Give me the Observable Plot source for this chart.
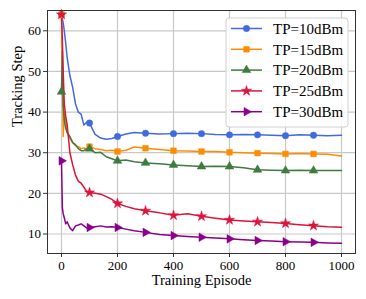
<!DOCTYPE html>
<html>
<head>
<meta charset="utf-8">
<script src="https://cdn.jsdelivr.net/npm/d3@7"></script>
<script src="https://cdn.jsdelivr.net/npm/@observablehq/plot@0.6"></script>
<style>
  html, body { margin: 0; padding: 0; background: #fff; }
  #chart { width: 366px; height: 299px; }
</style>
</head>
<body>
<div id="chart"></div>
<script>
// ---- data ----
const episodes = [0, 3, 6, 10, 15, 20, 30, 40, 50, 60, 70, 80, 90, 100, 120, 140, 160, 180, 200, 230, 260, 300, 350, 400, 450, 500, 550, 600, 650, 700, 750, 800, 850, 900, 950, 1000];
const tp10 = [64, 63, 62, 60, 57, 53.5, 49, 46, 42, 40, 39.5, 36.8, 37.5, 37.3, 34.5, 33.6, 33.3, 33.5, 34.0, 34.6, 35.0, 34.8, 34.6, 34.7, 34.8, 34.7, 34.5, 34.4, 34.5, 34.4, 34.3, 34.2, 34.4, 34.3, 34.2, 34.3];
const tp15 = [64, 50, 34, 40, 38, 35, 33.5, 32.5, 31.7, 31.5, 31, 31.2, 30.8, 31.5, 31, 30.8, 30.5, 30.6, 30.3, 30.6, 31.4, 31.1, 30.8, 30.5, 30.4, 30.3, 30.3, 30.1, 30.0, 29.9, 29.8, 29.7, 29.8, 29.7, 29.6, 29.2];
const tp20 = [45, 55, 42, 38, 36, 35, 34, 32.5, 32, 31, 30.5, 30.5, 31, 31, 30, 30.1, 29, 28.5, 28.0, 28.2, 27.8, 27.5, 27.3, 27.0, 26.8, 26.6, 26.7, 26.6, 26.3, 25.8, 25.7, 25.6, 25.7, 25.6, 25.6, 25.6];
const tp25 = [64, 58, 50, 42, 39, 37, 30, 27, 24.5, 23, 22.5, 21.5, 20.5, 20.2, 20, 19.8, 19.2, 18.5, 17.5, 16.8, 16.2, 15.7, 15.2, 14.6, 15.0, 14.35, 13.9, 13.45, 13.2, 13.0, 12.8, 12.6, 12.3, 12.05, 11.8, 11.65];
const tp30 = [28, 16.5, 15, 14, 12.5, 13, 11.5, 10.8, 12, 12.2, 12.5, 12, 11.5, 11.6, 11.8, 12, 11.7, 11.8, 11.6, 11.2, 10.8, 10.4, 9.9, 9.6, 9.4, 9.2, 9.0, 8.8, 8.6, 8.4, 8.25, 8.1, 8.0, 7.95, 7.8, 7.7];
const seriesNames = ["TP=10dBm", "TP=15dBm", "TP=20dBm", "TP=25dBm", "TP=30dBm"];
const seriesValues = [tp10, tp15, tp20, tp25, tp30];
const xTicks = [0, 200, 400, 600, 800, 1000];
const yTicks = [10, 20, 30, 40, 50, 60];
const colors = ["#4169E1", "#FF8C00", "#3E7B3E", "#DC143C", "#8B008B"];

// custom right-pointing triangle symbol
const triangleRight = {
  draw(context, size) {
    const k = Math.sqrt(size / (Math.sqrt(3) * 3));
    context.moveTo(2 * k, 0);
    context.lineTo(-k, -Math.sqrt(3) * k);
    context.lineTo(-k, Math.sqrt(3) * k);
    context.closePath();
  }
};
const symbols = [d3.symbolCircle, d3.symbolSquare, d3.symbolTriangle, d3.symbolStar, triangleRight];

const rows = [];
seriesNames.forEach((name, i) => {
  episodes.forEach((e, j) => rows.push({episode: e, value: seriesValues[i][j], series: name}));
});
const markerRows = rows.filter(d => d.episode % 100 === 0 && d.episode < 1000);

const font = "'Liberation Serif', 'Times New Roman', serif";
const R = 3.2;

const marks = [
  Plot.gridX(xTicks, {stroke: "#c8c8c8", strokeOpacity: 1, strokeWidth: 1.2}),
  Plot.gridY(yTicks, {stroke: "#c8c8c8", strokeOpacity: 1, strokeWidth: 1.2}),
];
seriesNames.forEach((name, i) => {
  marks.push(Plot.line(rows.filter(d => d.series === name), {x: "episode", y: "value", stroke: colors[i], strokeWidth: 1.5}));
});
seriesNames.forEach((name, i) => {
  marks.push(Plot.dot(markerRows.filter(d => d.series === name), {x: "episode", y: "value", fill: colors[i], stroke: colors[i], strokeWidth: 0.5, r: R, symbol: () => symbols[i]}));
});
marks.push(
  Plot.frame({stroke: "#333", strokeWidth: 1}),
  Plot.axisX(xTicks, {tickSize: 4, tickPadding: 3, fontSize: 13, label: null, stroke: "#333", tickFormat: d3.format("d")}),
  Plot.axisY(yTicks, {tickSize: 4, tickPadding: 2.5, fontSize: 13, label: null, stroke: "#333", tickFormat: d3.format("d")}),
  Plot.text(["Training Episode"], {frameAnchor: "bottom", dy: 31, fontSize: 14.5, text: d => d, fill: "#000"}),
  Plot.text(["Tracking Step"], {frameAnchor: "left", dx: -30, dy: -5, rotate: -90, fontSize: 14.5, text: d => d, fill: "#000"})
);

const chart = Plot.plot({
  width: 366,
  height: 299,
  marginLeft: 47,
  marginRight: 11,
  marginTop: 10,
  marginBottom: 46,
  x: {domain: [-50, 1050]},
  y: {domain: [5.2, 65]},
  symbol: {type: "identity"},
  style: {fontFamily: font, fontSize: "13px", color: "#000", background: "#fff"},
  marks
});
document.getElementById("chart").appendChild(chart);

// legend
const svg = d3.select(chart);
const lg = svg.append("g").attr("font-family", font).attr("font-size", 15).attr("text-anchor", "start");
lg.append("rect").attr("x", 226).attr("y", 18).attr("width", 122).attr("height", 109)
  .attr("rx", 3).attr("fill", "#fff").attr("fill-opacity", 0.85).attr("stroke", "#d0d0d0");
seriesNames.forEach((name, i) => {
  const y = 28.5 + i * 20.8;
  lg.append("line").attr("x1", 231).attr("x2", 262).attr("y1", y).attr("y2", y)
    .attr("stroke", colors[i]).attr("stroke-width", 1.5);
  lg.append("path").attr("d", d3.symbol(symbols[i], R * R * Math.PI)())
    .attr("transform", `translate(246.5,${y})`).attr("fill", colors[i]).attr("stroke", colors[i]).attr("stroke-width", 0.5);
  lg.append("text").attr("x", 273).attr("y", y).attr("dy", "0.35em").attr("text-anchor", "start").attr("fill", "#000").text(name);
});
</script>
</body>
</html>
